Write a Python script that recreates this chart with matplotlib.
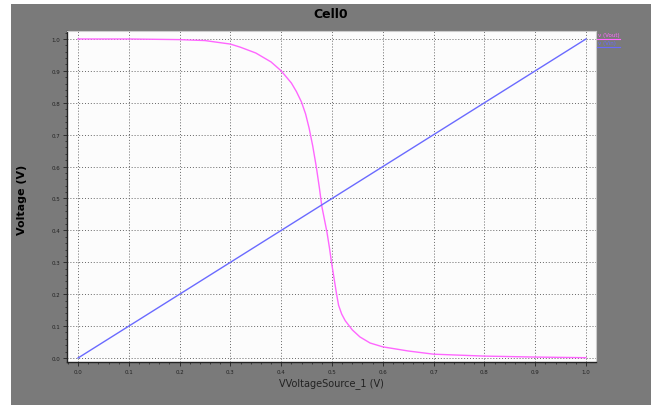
import matplotlib
matplotlib.use("Agg")
from matplotlib import pyplot as plt
from matplotlib.patches import Rectangle
from matplotlib.lines import Line2D
from matplotlib.ticker import MultipleLocator, FormatStrFormatter

# sweep of the input source and the inverter output
vin = [0.0, 1.0]
vin_out = [0.0, 1.0]

vout_x = [0.0, 0.1, 0.2, 0.25, 0.3, 0.32, 0.35, 0.38, 0.4, 0.42, 0.43, 0.44, 0.448,
          0.455, 0.462, 0.469, 0.475, 0.48, 0.485, 0.49, 0.495, 0.499, 0.504,
          0.509, 0.513, 0.519, 0.526, 0.54, 0.555, 0.575, 0.6, 0.65, 0.7, 0.8, 0.9, 1.0]
vout_y = [1.0, 1.0, 0.998, 0.995, 0.984, 0.974, 0.956, 0.928, 0.9, 0.862, 0.835, 0.802, 0.765,
          0.72, 0.665, 0.6, 0.535, 0.475, 0.435, 0.395, 0.345, 0.3, 0.25,
          0.2, 0.165, 0.138, 0.117, 0.088, 0.066, 0.047, 0.035, 0.022, 0.012, 0.006, 0.003, 0.001]

legend_names = ["v (Vout)", "v (Vin)"]
line_colors = ["#ff66ff", "#6a6aff"]


def main():
    fig = plt.figure(figsize=(6.51, 4.06), dpi=100, facecolor="white")
    fig.patches.append(Rectangle((11 / 651, 0), 1, 401 / 406, transform=fig.transFigure,
                                 facecolor="#7a7a7a", edgecolor="none", zorder=-10))

    ax = fig.add_axes([67 / 651, 43 / 406, 529 / 651, 331 / 406])
    ax.set_facecolor("#fcfcfc")

    ax.plot(vout_x, vout_y, color=line_colors[0], lw=1.0, solid_joinstyle="round")
    ax.plot(vin, vin_out, color=line_colors[1], lw=1.0)

    ax.set_xlim(-0.0217, 1.0197)
    ax.set_ylim(-0.0125, 1.025)

    for a in (ax.xaxis, ax.yaxis):
        a.set_major_locator(MultipleLocator(0.1))
        a.set_minor_locator(MultipleLocator(0.02))
        a.set_major_formatter(FormatStrFormatter("%.1f"))

    ax.tick_params(which="major", direction="out", length=3, width=0.6,
                   labelsize=4, colors="#222222", pad=2)
    ax.tick_params(which="minor", direction="out", length=1.5, width=0.5, colors="#222222")
    ax.grid(True, which="major", color="#666666", ls=(0, (1, 2)), lw=0.7)

    for side in ("top", "right"):
        ax.spines[side].set_color("#cccccc")
    for side in ("left", "bottom"):
        ax.spines[side].set_color("#222222")
        ax.spines[side].set_linewidth(1.0)

    fig.text(331 / 651, 1 - 14 / 406, "Cell0", ha="center", va="center",
             fontsize=9, fontweight="bold", color="black")
    fig.text(22 / 651, 1 - 200 / 406, "Voltage (V)", ha="center", va="center",
             rotation=90, fontsize=8, fontweight="bold", color="black")
    fig.text(331 / 651, 1 - 384 / 406, "VVoltageSource_1 (V)", ha="center", va="center",
             fontsize=7, color="#222222")

    # legend entries to the right of the plot, underlined
    for i, (name, col) in enumerate(zip(legend_names, line_colors)):
        yp = 1 - (36 + 8 * i) / 406
        fig.text(598 / 651, yp, name, ha="left", va="center", fontsize=4, color=col)
        fig.add_artist(Line2D([597 / 651, 620 / 651], [yp - 3.5 / 406, yp - 3.5 / 406],
                              transform=fig.transFigure, color=col, lw=0.8))

    fig.savefig("out.png", dpi=100, facecolor=fig.get_facecolor())


if __name__ == '__main__':
    main()
